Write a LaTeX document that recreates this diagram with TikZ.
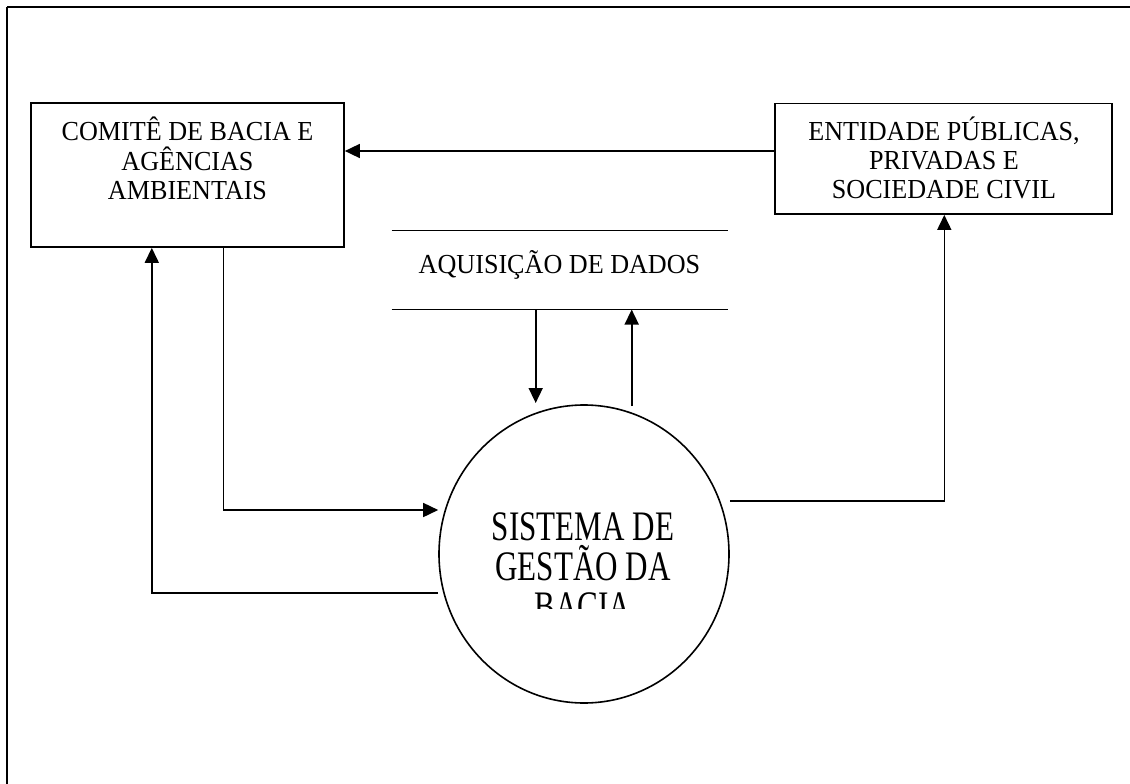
\documentclass[tikz,border=0pt]{standalone}
\usepackage{fontspec}
\setmainfont{Liberation Serif}
\newfontfamily\bxfont{Liberation Serif}[FakeStretch=0.95]
\newfontfamily\crfont{Liberation Serif}[FakeStretch=0.74]
\usetikzlibrary{arrows.meta,shapes.geometric}
\newcommand\mlines[1]{\vtop{\lineskiplimit=-100pt\lineskip=0pt\halign{\hfil##\hfil\cr#1\crcr}}}
\tikzset{
  box/.style={draw, line width=1.7pt, rectangle, inner sep=0pt},
  store/.style={rectangle, inner sep=0pt},
  proc/.style={draw, line width=1.6pt, ellipse, inner sep=0pt},
  txt/.style={inner sep=0pt, anchor=base, font=\bxfont\fontsize{27.5}{29.3}\selectfont},
  ctxt/.style={inner sep=0pt, anchor=base, font=\crfont\fontsize{42}{40.2}\selectfont},
  conn/.style={line width=1.6pt},
  arr/.style={conn, -{Triangle[length=15pt,width=14pt]}},
  frame/.style={line width=2.2pt}
}
\begin{document}
\begin{tikzpicture}[x=1pt,y=-1pt]
\useasboundingbox (0,0) rectangle (1130,784);
\begin{scope}
  \clip (0,0) rectangle (1130,784);
  \draw[frame] (7,7) -- (1140,7);
  \draw[line width=1.6pt] (7,7) -- (7,800);
\end{scope}
% nodes
\node[box, minimum width=313pt, minimum height=144pt] (comite) at (187.5,175) {};
\node[txt] (comiteT) at (187.5,140.7) {\mlines{COMITÊ DE BACIA E\cr AGÊNCIAS\cr AMBIENTAIS}};
\node[box, minimum width=337pt, minimum height=110.7pt] (ent) at (943.5,158.7) {};
\node[txt] (entT) at (944,140) {\mlines{ENTIDADE PÚBLICAS,\cr PRIVADAS E\cr SOCIEDADE CIVIL}};
\node[store, minimum width=336.3pt, minimum height=78.6pt] (aq) at (559.85,270) {};
\draw[conn] (aq.north west) -- (aq.north east);
\draw[conn] (aq.south west) -- (aq.south east);
\node[txt] (aqT) at (559.5,273) {AQUISIÇÃO DE DADOS};
\node[proc, minimum width=290pt, minimum height=298pt] (sgb) at (584,554) {};
\begin{scope}
  \clip (439,480) rectangle (729,608.4);
  \node[ctxt] (sgbT) at (583,540.3) {\mlines{SISTEMA DE\cr GESTÃO DA\cr BACIA}};
\end{scope}
% connectors
\coordinate (dtip) at (535.7,403);
\coordinate (ustart) at (631.7,406);
\draw[arr] (ent.west |- 0,151) -- (comite.east |- 0,151);
\draw[arr] (comite.south -| 223.3,0) |- (sgb.west |- 0,510);
\draw[arr] (sgb.west |- 0,593) -| (comite.south -| 151.8,0);
\draw[arr] (sgb.east |- 0,501) -| (ent.south -| 944.3,0);
\draw[arr] (aq.south -| dtip) -- (dtip);
\draw[arr] (ustart) -- (aq.south -| ustart);
\end{tikzpicture}
\end{document}
